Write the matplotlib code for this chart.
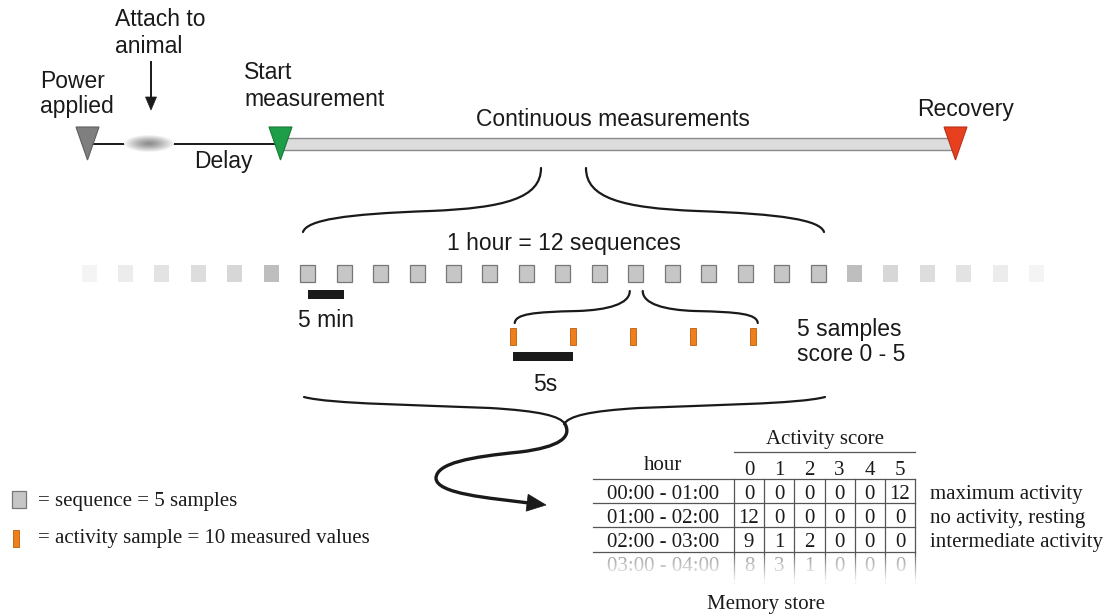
import matplotlib
matplotlib.use("Agg")
import matplotlib.pyplot as plt
import numpy as np
from matplotlib.patches import Rectangle, Polygon, Ellipse, PathPatch
from matplotlib.path import Path

SANS = "Liberation Sans"
SERIF = "Liberation Serif"

# timeline events (text lines, marker colour)
power_label = ["Power", "applied"]
attach_label = ["Attach to", "animal"]
start_label = ["Start", "measurement"]
recovery_label = ["Recovery"]
event_colors = {"power": "#7f7f7f", "start": "#1f9e4a", "recovery": "#e8401f"}

# sequence strip: faded neighbours either side of the drawn hour
fade_left = ["#f4f4f4", "#ececec", "#e3e3e3", "#dddddd", "#d7d7d7", "#bebebe"]
fade_right = fade_left[::-1]
n_sequences = 15
zoom_sequence = 9          # the sequence expanded into samples
n_samples = 5

# memory store table
score_cols = ["0", "1", "2", "3", "4", "5"]
hours = ["00:00 - 01:00", "01:00 - 02:00", "02:00 - 03:00", "03:00 - 04:00"]
counts = [
    [0, 0, 0, 0, 0, 12],
    [12, 0, 0, 0, 0, 0],
    [9, 1, 2, 0, 0, 0],
    [8, 3, 1, 0, 0, 0],
]
row_notes = ["maximum activity", "no activity, resting", "intermediate activity"]
legend_items = ["= sequence = 5 samples", "= activity sample = 10 measured values"]

INK = "#1a1a1a"


def curve(ax, pts, lw=1.6, color=INK):
    codes = [Path.MOVETO] + [Path.CURVE4] * (len(pts) - 1)
    ax.add_patch(PathPatch(Path(pts, codes), fill=False, lw=lw, ec=color,
                           capstyle="round", joinstyle="round"))


def brace(ax, half, cx, lw=1.6):
    # half is the left half; mirror it about cx for the right half
    curve(ax, half, lw)
    curve(ax, [(2 * cx - x, y) for x, y in half], lw)


def tri(ax, x, color, edge):
    ax.add_patch(Polygon([(x - 11.5, 127), (x + 11.5, 127), (x, 160)],
                         closed=True, fc=color, ec=edge, lw=0.8, zorder=4))


def sans(ax, x, y, s, ha="left"):
    ax.text(x, y, s, fontsize=16.5, family=SANS, color=INK, ha=ha, va="baseline")


def serif(ax, x, y, s, ha="center", color=INK):
    ax.text(x, y, s, fontsize=15, family=SERIF, color=color, ha=ha, va="baseline")


fig = plt.figure(figsize=(11.1, 6.14), dpi=100)
ax = fig.add_axes([0, 0, 1, 1])
ax.set_xlim(0, 1110)
ax.set_ylim(614, 0)
ax.axis("off")

# ---- timeline ----
ax.plot([93, 125], [143.5, 143.5], color=INK, lw=1.4)
ax.plot([173, 275], [143.5, 143.5], color=INK, lw=1.4)
ax.add_patch(Rectangle((283, 137.5), 670, 12, fc="#dcdcdc", ec="#8a8a8a", lw=1, zorder=2))

# blurred device blob
ell = Ellipse((149, 143.5), 50, 17, fc="none", ec="none")
ax.add_patch(ell)
gx, gy = np.meshgrid(np.linspace(-1, 1, 80), np.linspace(-1, 1, 40))
rr = np.clip(np.sqrt(gx ** 2 + gy ** 2), 0, 1)
im = ax.imshow(0.55 + 0.42 * rr ** 1.3, cmap="gray", vmin=0, vmax=1,
               extent=(124, 174, 152, 135), aspect="auto", zorder=3)
im.set_clip_path(ell)

tri(ax, 87.5, event_colors["power"], "#5f5f5f")
tri(ax, 280.5, event_colors["start"], "#167a38")
tri(ax, 955.5, event_colors["recovery"], "#b8321a")

# down arrow for attaching
ax.plot([151, 151], [62, 98], color=INK, lw=1.4)
ax.add_patch(Polygon([(145.5, 97), (156.5, 97), (151, 110)], fc=INK, ec=INK, lw=0.5))

sans(ax, 115, 26, attach_label[0])
sans(ax, 115, 53, attach_label[1])
sans(ax, 40, 88, power_label[0])
sans(ax, 40, 113, power_label[1])
sans(ax, 244, 79, start_label[0])
sans(ax, 244, 106, start_label[1])
sans(ax, 223, 168, "Delay", ha="center")
sans(ax, 613, 126, "Continuous measurements", ha="center")
sans(ax, 966, 116, recovery_label[0], ha="center")

# ---- one hour brace ----
brace(ax, [(541, 168), (541, 198), (505, 208), (430, 211),
           (345, 214), (307, 220), (303, 232)], 563.5)
sans(ax, 564, 250, "1 hour = 12 sequences", ha="center")

# ---- sequence strip ----
x0, step, sq_w, sq_h, sq_y = 89, 36.45, 15, 17, 273
cols = fade_left + [None] * n_sequences + fade_right
for i, c in enumerate(cols):
    cx = x0 + i * step
    if c is None:
        ax.add_patch(Rectangle((cx - sq_w / 2, sq_y - sq_h / 2), sq_w, sq_h,
                               fc="#c6c6c6", ec="#777777", lw=0.9))
    else:
        ax.add_patch(Rectangle((cx - sq_w / 2, sq_y - sq_h / 2), sq_w, sq_h,
                               fc=c, ec="none"))

first_seq = x0 + len(fade_left) * step
ax.add_patch(Rectangle((first_seq, 290), step, 9, fc=INK, ec="none"))
sans(ax, first_seq + step / 2, 327, "5 min", ha="center")

# ---- one sequence -> samples ----
zx = first_seq + zoom_sequence * step
brace(ax, [(zx - 6, 291), (zx - 6, 304), (zx - 28, 310), (zx - 58, 311),
           (zx - 103, 312), (zx - 120, 314), (zx - 121, 323)], zx + 0.5)

s0, s_step = 513, 60
for k in range(n_samples):
    ax.add_patch(Rectangle((s0 + k * s_step - 3, 328), 6, 17,
                           fc="#f07f1a", ec="#b85e10", lw=0.6))
ax.add_patch(Rectangle((s0, 352), s_step, 9, fc=INK, ec="none"))
sans(ax, s0 + s_step / 2 + 2, 391, "5s", ha="center")
sans(ax, 797, 336, "5 samples")
sans(ax, 797, 361, "score 0 - 5")

# ---- brace into the memory store ----
brace(ax, [(304, 397), (330, 404), (420, 405), (490, 408),
           (540, 411), (560, 416), (565, 424)], 564.5)
curve(ax, [(565, 424), (572, 437), (560, 447), (520, 452),
           (470, 457), (437, 463), (436, 478),
           (436, 494), (490, 498), (529, 503)], lw=2.4)
tip = np.array([546.0, 505.0])
d = np.array([1.0, 0.12]) / np.hypot(1.0, 0.12)
n = np.array([-d[1], d[0]])
base = tip - 19 * d
ax.add_patch(Polygon([tip, base + 8.5 * n, base - 8.5 * n], fc=INK, ec=INK, lw=0.5))

# ---- table ----
col_x = [749 + 30.2 * j for j in range(len(score_cols))]
col_edges = [734 + 30.2 * j for j in range(len(score_cols) + 1)]
row_base = [499, 523, 547, 571]
row_lines = [479, 503, 527, 552]
tbl_left, tbl_right = 593, col_edges[-1]

serif(ax, 825, 444, "Activity score")
ax.plot([734, tbl_right], [452, 452], color="#555555", lw=0.9)
serif(ax, 663, 470, "hour")
for j, s in enumerate(score_cols):
    serif(ax, col_x[j], 475, s)
for y in row_lines:
    ax.plot([tbl_left, tbl_right], [y, y], color="#555555", lw=0.9)
for x in col_edges:
    ax.plot([x, x], [479, 582], color="#555555", lw=0.9)
for i, h in enumerate(hours):
    c = INK if i < 3 else "#8c8c8c"
    serif(ax, 663, row_base[i], h, color=c)
    for j, v in enumerate(counts[i]):
        serif(ax, col_x[j], row_base[i], str(v), color=c)
for i, note in enumerate(row_notes):
    serif(ax, 930, row_base[i], note, ha="left")

# fade out the last row
fade = np.ones((40, 1, 4))
fade[:, 0, 3] = np.linspace(0.0, 1.0, 40) ** 0.8
ax.imshow(fade, extent=(588, 920, 583, 553), aspect="auto", zorder=6)
serif(ax, 766, 609, "Memory store")

# ---- legend ----
ax.add_patch(Rectangle((12, 491), 14, 17, fc="#c6c6c6", ec="#777777", lw=0.9))
serif(ax, 38, 506, legend_items[0], ha="left")
ax.add_patch(Rectangle((13, 530), 5.5, 17, fc="#f07f1a", ec="#b85e10", lw=0.6))
serif(ax, 38, 543, legend_items[1], ha="left")

fig.savefig("out.png", dpi=100)
